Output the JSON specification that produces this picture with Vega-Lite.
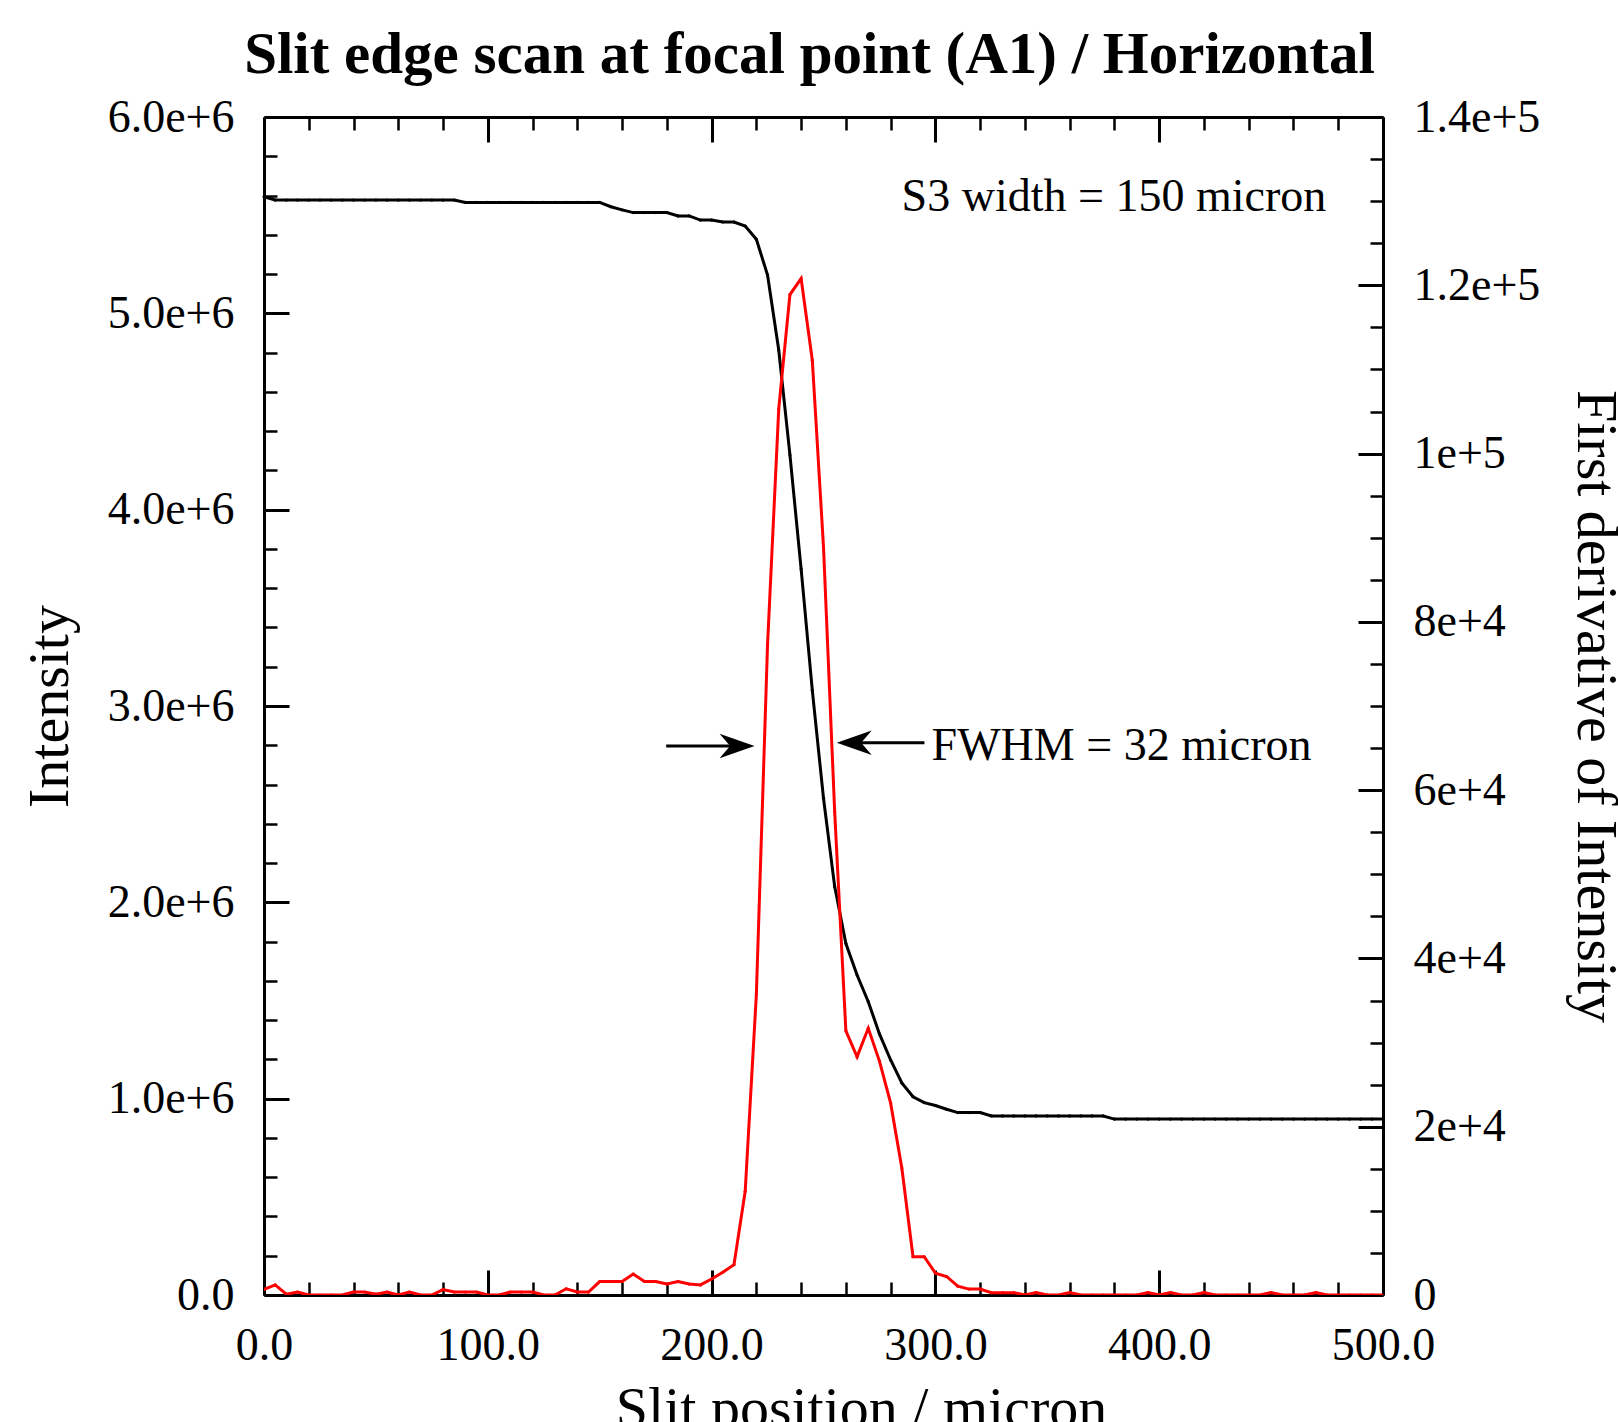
{
  "$schema": "https://vega.github.io/schema/vega-lite/v6.json",
  "width": 1119,
  "height": 1178,
  "autosize": "none",
  "padding": {"left": 264, "top": 117, "right": 235, "bottom": 127},
  "background": "white",
  "config": {
    "view": {"stroke": null},
    "font": "Liberation Serif",
    "axis": {
      "labelFont": "Liberation Serif",
      "titleFont": "Liberation Serif",
      "labelColor": "black",
      "titleColor": "black",
      "labelFontSize": 46,
      "titleFontSize": 58,
      "titleFontWeight": "normal",
      "domainColor": "black",
      "domainWidth": 3,
      "tickColor": "black",
      "tickWidth": 2.5,
      "grid": false,
      "labelOverlap": false,
      "labelFlush": false,
      "labelBound": false
    }
  },
  "title": {
    "text": "Slit edge scan at focal point (A1) / Horizontal",
    "font": "Liberation Serif",
    "fontSize": 59,
    "fontWeight": "bold",
    "color": "black",
    "anchor": "middle",
    "frame": "group",
    "dx": -14,
    "dy": 83,
    "baseline": "alphabetic",
    "offset": 45
  },
  "datasets": {
    "scan": [
      {"pos": 0, "intensity": 5594000, "derivative": 660},
      {"pos": 5, "intensity": 5577000, "derivative": 1200},
      {"pos": 10, "intensity": 5577000, "derivative": 100},
      {"pos": 15, "intensity": 5577000, "derivative": 350},
      {"pos": 20, "intensity": 5577000, "derivative": 0},
      {"pos": 25, "intensity": 5577000, "derivative": 0},
      {"pos": 30, "intensity": 5577000, "derivative": 0},
      {"pos": 35, "intensity": 5577000, "derivative": 0},
      {"pos": 40, "intensity": 5577000, "derivative": 350},
      {"pos": 45, "intensity": 5577000, "derivative": 350},
      {"pos": 50, "intensity": 5577000, "derivative": 100},
      {"pos": 55, "intensity": 5577000, "derivative": 350},
      {"pos": 60, "intensity": 5577000, "derivative": 0},
      {"pos": 65, "intensity": 5577000, "derivative": 350},
      {"pos": 70, "intensity": 5577000, "derivative": 0},
      {"pos": 75, "intensity": 5577000, "derivative": 0},
      {"pos": 80, "intensity": 5577000, "derivative": 650},
      {"pos": 85, "intensity": 5577000, "derivative": 350},
      {"pos": 90, "intensity": 5565000, "derivative": 350},
      {"pos": 95, "intensity": 5565000, "derivative": 350},
      {"pos": 100, "intensity": 5565000, "derivative": 0},
      {"pos": 105, "intensity": 5565000, "derivative": 0},
      {"pos": 110, "intensity": 5565000, "derivative": 350},
      {"pos": 115, "intensity": 5565000, "derivative": 350},
      {"pos": 120, "intensity": 5565000, "derivative": 350},
      {"pos": 125, "intensity": 5565000, "derivative": 0},
      {"pos": 130, "intensity": 5565000, "derivative": 0},
      {"pos": 135, "intensity": 5565000, "derivative": 740},
      {"pos": 140, "intensity": 5565000, "derivative": 350},
      {"pos": 145, "intensity": 5565000, "derivative": 350},
      {"pos": 150, "intensity": 5565000, "derivative": 1600},
      {"pos": 155, "intensity": 5543000, "derivative": 1600},
      {"pos": 160, "intensity": 5527000, "derivative": 1600},
      {"pos": 165, "intensity": 5513000, "derivative": 2500},
      {"pos": 170, "intensity": 5513000, "derivative": 1600},
      {"pos": 175, "intensity": 5513000, "derivative": 1600},
      {"pos": 180, "intensity": 5513000, "derivative": 1300},
      {"pos": 185, "intensity": 5496000, "derivative": 1600},
      {"pos": 190, "intensity": 5496000, "derivative": 1300},
      {"pos": 195, "intensity": 5475000, "derivative": 1200},
      {"pos": 200, "intensity": 5475000, "derivative": 1900},
      {"pos": 205, "intensity": 5465000, "derivative": 2700},
      {"pos": 210, "intensity": 5465000, "derivative": 3600},
      {"pos": 215, "intensity": 5445000, "derivative": 12300},
      {"pos": 220, "intensity": 5377000, "derivative": 35700},
      {"pos": 225, "intensity": 5195000, "derivative": 77300},
      {"pos": 230, "intensity": 4813000, "derivative": 105300},
      {"pos": 235, "intensity": 4279000, "derivative": 118900},
      {"pos": 240, "intensity": 3698000, "derivative": 120800},
      {"pos": 245, "intensity": 3080000, "derivative": 111100},
      {"pos": 250, "intensity": 2530000, "derivative": 88900},
      {"pos": 255, "intensity": 2080000, "derivative": 57400},
      {"pos": 260, "intensity": 1790000, "derivative": 31400},
      {"pos": 265, "intensity": 1630000, "derivative": 28300},
      {"pos": 270, "intensity": 1494000, "derivative": 31700},
      {"pos": 275, "intensity": 1330000, "derivative": 27800},
      {"pos": 280, "intensity": 1197000, "derivative": 22800},
      {"pos": 285, "intensity": 1080000, "derivative": 15100},
      {"pos": 290, "intensity": 1010000, "derivative": 4550},
      {"pos": 295, "intensity": 980000, "derivative": 4550},
      {"pos": 300, "intensity": 965000, "derivative": 2600},
      {"pos": 305, "intensity": 946000, "derivative": 2200},
      {"pos": 310, "intensity": 929000, "derivative": 1050},
      {"pos": 315, "intensity": 929000, "derivative": 700},
      {"pos": 320, "intensity": 929000, "derivative": 700},
      {"pos": 325, "intensity": 912000, "derivative": 280},
      {"pos": 330, "intensity": 912000, "derivative": 280},
      {"pos": 335, "intensity": 912000, "derivative": 280},
      {"pos": 340, "intensity": 912000, "derivative": 0},
      {"pos": 345, "intensity": 912000, "derivative": 280},
      {"pos": 350, "intensity": 912000, "derivative": 0},
      {"pos": 355, "intensity": 912000, "derivative": 0},
      {"pos": 360, "intensity": 912000, "derivative": 280},
      {"pos": 365, "intensity": 912000, "derivative": 0},
      {"pos": 370, "intensity": 912000, "derivative": 0},
      {"pos": 375, "intensity": 912000, "derivative": 0},
      {"pos": 380, "intensity": 896000, "derivative": 0},
      {"pos": 385, "intensity": 896000, "derivative": 0},
      {"pos": 390, "intensity": 896000, "derivative": 0},
      {"pos": 395, "intensity": 896000, "derivative": 280},
      {"pos": 400, "intensity": 896000, "derivative": 0},
      {"pos": 405, "intensity": 896000, "derivative": 280},
      {"pos": 410, "intensity": 896000, "derivative": 0},
      {"pos": 415, "intensity": 896000, "derivative": 0},
      {"pos": 420, "intensity": 896000, "derivative": 280},
      {"pos": 425, "intensity": 896000, "derivative": 0},
      {"pos": 430, "intensity": 896000, "derivative": 0},
      {"pos": 435, "intensity": 896000, "derivative": 0},
      {"pos": 440, "intensity": 896000, "derivative": 0},
      {"pos": 445, "intensity": 896000, "derivative": 0},
      {"pos": 450, "intensity": 896000, "derivative": 280},
      {"pos": 455, "intensity": 896000, "derivative": 0},
      {"pos": 460, "intensity": 896000, "derivative": 0},
      {"pos": 465, "intensity": 896000, "derivative": 0},
      {"pos": 470, "intensity": 896000, "derivative": 280},
      {"pos": 475, "intensity": 896000, "derivative": 0},
      {"pos": 480, "intensity": 896000, "derivative": 0},
      {"pos": 485, "intensity": 896000, "derivative": 0},
      {"pos": 490, "intensity": 896000, "derivative": 0},
      {"pos": 495, "intensity": 896000, "derivative": 0},
      {"pos": 500, "intensity": 896000, "derivative": 0}
    ],
    "arrows": [
      {"x": 179.7, "x2": 212, "y": 2796000},
      {"x": 262, "x2": 295.1, "y": 2813000}
    ],
    "headRight": [{"x": 219.2, "y": 2796000}],
    "headLeft": [{"x": 255.9, "y": 2813000}],
    "notes": [
      {"x": 284.9, "y": 5521000, "label": "S3 width = 150 micron"},
      {"x": 298.3, "y": 2725000, "label": "FWHM = 32 micron"}
    ]
  },
  "layer": [
    {
      "data": {"name": "scan"},
      "mark": {"type": "line", "color": "black", "strokeWidth": 3, "point": {"filled": true, "size": 10, "color": "black"}},
      "encoding": {
        "x": {"field": "pos", "type": "quantitative", "scale": {"domain": [0, 500], "nice": false, "zero": false},
          "axis": {"orient": "bottom", "values": [0, 100, 200, 300, 400, 500], "ticks": false, "domain": true, "labelPadding": 28,
            "labelExpr": "format(datum.value, '.1f')", "title": "Slit position / micron", "titleX": 597, "titleY": 131,
            "titleBaseline": "alphabetic", "titleAlign": "center"}},
        "y": {"field": "intensity", "type": "quantitative", "scale": {"domain": [0, 6000000], "nice": false, "zero": false},
          "axis": {"orient": "left", "values": [0, 1000000, 2000000, 3000000, 4000000, 5000000, 6000000], "ticks": false, "domain": true,
            "labelPadding": 30, "labelExpr": "datum.value == 0 ? '0.0' : format(datum.value, '.1e')",
            "title": "Intensity", "titleAngle": 270, "titleX": -197, "titleY": 589, "titleBaseline": "alphabetic", "titleAlign": "center"}}
      }
    },
    {
      "data": {"name": "scan"},
      "mark": {"type": "line", "color": "#ff0000", "strokeWidth": 3, "clip": true, "point": {"filled": true, "size": 10, "color": "#ff0000"}},
      "encoding": {
        "x": {"field": "pos", "type": "quantitative", "scale": {"domain": [0, 500], "nice": false, "zero": false},
          "axis": {"orient": "bottom", "values": [20, 40, 60, 80, 120, 140, 160, 180, 220, 240, 260, 280, 320, 340, 360, 380, 420, 440, 460, 480],
            "tickSize": -13, "labels": false, "domain": false, "title": null}},
        "y": {"field": "derivative", "type": "quantitative", "scale": {"domain": [0, 140000], "nice": false, "zero": false},
          "axis": {"orient": "right", "values": [0, 20000, 40000, 60000, 80000, 100000, 120000, 140000], "ticks": false, "domain": true,
            "labelPadding": 30, "labelExpr": "datum.value == 0 ? '0' : format(datum.value, '.2~e')",
            "title": "First derivative of Intensity", "titleAngle": 90, "titleX": 194, "titleY": 589, "titleBaseline": "alphabetic", "titleAlign": "center"}}
      }
    },
    {
      "data": {"name": "scan"},
      "mark": {"type": "point", "opacity": 0},
      "encoding": {
        "x": {"field": "pos", "type": "quantitative", "scale": {"domain": [0, 500], "nice": false, "zero": false},
          "axis": {"orient": "bottom", "values": [0, 100, 200, 300, 400, 500], "tickSize": -25, "tickWidth": 3, "labels": false, "domain": false, "title": null}},
        "y": {"field": "intensity", "type": "quantitative", "scale": {"domain": [0, 6000000], "nice": false, "zero": false},
          "axis": {"orient": "left", "values": [200000, 400000, 600000, 800000, 1200000, 1400000, 1600000, 1800000, 2200000, 2400000, 2600000, 2800000, 3200000, 3400000, 3600000, 3800000, 4200000, 4400000, 4600000, 4800000, 5200000, 5400000, 5600000, 5800000],
            "tickSize": -13, "labels": false, "domain": false, "title": null}}
      }
    },
    {
      "data": {"name": "scan"},
      "mark": {"type": "point", "opacity": 0},
      "encoding": {
        "x": {"field": "pos", "type": "quantitative", "scale": {"domain": [0, 500], "nice": false, "zero": false},
          "axis": {"orient": "top", "values": [0, 100, 200, 300, 400, 500], "tickSize": -25, "tickWidth": 3, "labels": false, "domain": true, "title": null}},
        "y": {"field": "intensity", "type": "quantitative", "scale": {"domain": [0, 6000000], "nice": false, "zero": false},
          "axis": {"orient": "left", "values": [0, 1000000, 2000000, 3000000, 4000000, 5000000, 6000000], "tickSize": -25, "tickWidth": 3, "labels": false, "domain": false, "title": null}}
      }
    },
    {
      "data": {"name": "scan"},
      "mark": {"type": "point", "opacity": 0},
      "encoding": {
        "x": {"field": "pos", "type": "quantitative", "scale": {"domain": [0, 500], "nice": false, "zero": false},
          "axis": {"orient": "top", "values": [20, 40, 60, 80, 120, 140, 160, 180, 220, 240, 260, 280, 320, 340, 360, 380, 420, 440, 460, 480],
            "tickSize": -13, "labels": false, "domain": false, "title": null}},
        "y": {"field": "derivative", "type": "quantitative", "scale": {"domain": [0, 140000], "nice": false, "zero": false},
          "axis": {"orient": "right", "values": [5000, 10000, 15000, 25000, 30000, 35000, 45000, 50000, 55000, 65000, 70000, 75000, 85000, 90000, 95000, 105000, 110000, 115000, 125000, 130000, 135000],
            "tickSize": -13, "labels": false, "domain": false, "title": null}}
      }
    },
    {
      "data": {"name": "scan"},
      "mark": {"type": "point", "opacity": 0},
      "encoding": {
        "x": {"field": "pos", "type": "quantitative", "scale": {"domain": [0, 500], "nice": false, "zero": false}, "axis": null},
        "y": {"field": "derivative", "type": "quantitative", "scale": {"domain": [0, 140000], "nice": false, "zero": false},
          "axis": {"orient": "right", "values": [0, 20000, 40000, 60000, 80000, 100000, 120000, 140000], "tickSize": -25, "tickWidth": 3, "labels": false, "domain": false, "title": null}}
      }
    },
    {
      "data": {"name": "arrows"},
      "mark": {"type": "rule", "color": "black", "strokeWidth": 3},
      "encoding": {
        "x": {"field": "x", "type": "quantitative", "scale": {"domain": [0, 500], "nice": false, "zero": false}, "axis": null},
        "x2": {"field": "x2"},
        "y": {"field": "y", "type": "quantitative", "scale": {"domain": [0, 6000000], "nice": false, "zero": false}, "axis": null}
      }
    },
    {
      "data": {"name": "headRight"},
      "mark": {"type": "point", "shape": "M0,0 L-2,-0.7 L-1.4,0 L-2,0.7 Z", "size": 1225, "filled": true, "color": "black", "opacity": 1, "strokeWidth": 0},
      "encoding": {
        "x": {"field": "x", "type": "quantitative", "scale": {"domain": [0, 500], "nice": false, "zero": false}, "axis": null},
        "y": {"field": "y", "type": "quantitative", "scale": {"domain": [0, 6000000], "nice": false, "zero": false}, "axis": null}
      }
    },
    {
      "data": {"name": "headLeft"},
      "mark": {"type": "point", "shape": "M0,0 L2,-0.7 L1.4,0 L2,0.7 Z", "size": 1225, "filled": true, "color": "black", "opacity": 1, "strokeWidth": 0},
      "encoding": {
        "x": {"field": "x", "type": "quantitative", "scale": {"domain": [0, 500], "nice": false, "zero": false}, "axis": null},
        "y": {"field": "y", "type": "quantitative", "scale": {"domain": [0, 6000000], "nice": false, "zero": false}, "axis": null}
      }
    },
    {
      "data": {"name": "notes"},
      "mark": {"type": "text", "font": "Liberation Serif", "fontSize": 46, "color": "black", "align": "left", "baseline": "alphabetic"},
      "encoding": {
        "x": {"field": "x", "type": "quantitative", "scale": {"domain": [0, 500], "nice": false, "zero": false}, "axis": null},
        "y": {"field": "y", "type": "quantitative", "scale": {"domain": [0, 6000000], "nice": false, "zero": false}, "axis": null},
        "text": {"field": "label"}
      }
    }
  ],
  "resolve": {"scale": {"y": "independent"}, "axis": {"x": "independent", "y": "independent"}}
}
